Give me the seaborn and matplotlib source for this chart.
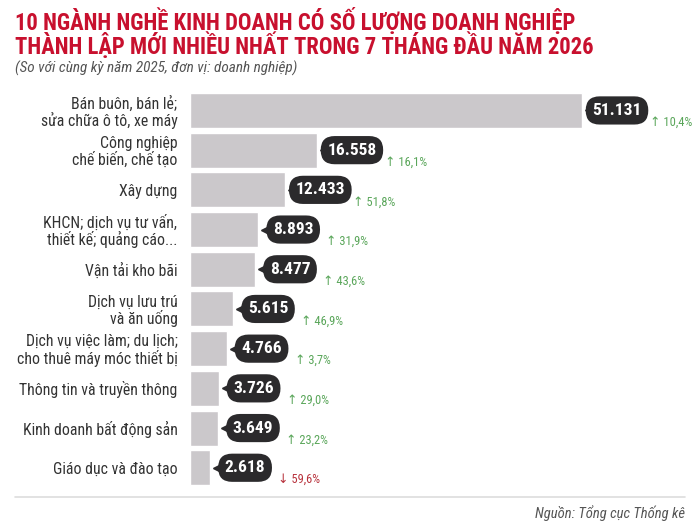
import numpy as np
import pandas as pd
import matplotlib
matplotlib.use('Agg')
import matplotlib.pyplot as plt
import matplotlib.transforms as mtransforms
import seaborn as sns

# du lieu
nganh = ['Bán buôn, bán lẻ;\nsửa chữa ô tô, xe máy',
         'Công nghiệp\nchế biến, chế tạo',
         'Xây dựng',
         'KHCN; dịch vụ tư vấn,\nthiết kế; quảng cáo...',
         'Vận tải kho bãi',
         'Dịch vụ lưu trú\nvà ăn uống',
         'Dịch vụ việc làm; du lịch;\ncho thuê máy móc thiết bị',
         'Thông tin và truyền thông',
         'Kinh doanh bất động sản',
         'Giáo dục và đào tạo']
so_dn = [51131, 16558, 12433, 8893, 8477, 5615, 4766, 3726, 3649, 2618]
nhan_so = ['51.131', '16.558', '12.433', '8.893', '8.477', '5.615', '4.766', '3.726', '3.649', '2.618']
tang_truong = [10.4, 16.1, 51.8, 31.9, 43.6, 46.9, 3.7, 29.0, 23.2, -59.6]
nhan_tt = ['10,4%', '16,1%', '51,8%', '31,9%', '43,6%', '46,9%', '3,7%', '29,0%', '23,2%', '59,6%']

df = pd.DataFrame({'nganh': nganh, 'so_dn': so_dn})

sns.set_style('white')
FONT = ['Roboto Condensed', 'Roboto', 'DejaVu Sans']
plt.rcParams['font.family'] = FONT

W, H = 700, 527
fig = plt.figure(figsize=(7, 5.27), dpi=100)
# truc: 0 tai x=190px, 51131 tai x=582px
ax = fig.add_axes([190 / W, 1 - 487.6 / H, 500 / W, (487.6 - 90.6) / H])

sns.barplot(data=df, y='nganh', x='so_dn', orient='h', color='#cbc8cb',
            saturation=1, width=0.88, ax=ax)
ax.set_xlim(0, 51131 * 500 / 392)
ax.set_ylim(9.5, -0.5)
sns.despine(ax=ax, left=True, bottom=True)
ax.set_xlabel('')
ax.set_ylabel('')
ax.set_xticks([])
ax.tick_params(axis='y', length=0, pad=9, labelsize=11.3, labelcolor='#333333')
for t in ax.get_yticklabels():
    t.set_linespacing(1.05)

for i, (v, lab, tt, ntt) in enumerate(zip(so_dn, nhan_so, tang_truong, nhan_tt)):
    # mui nhon cua nhan
    tri = mtransforms.offset_copy(ax.transData, fig=fig, x=8, y=0, units='dots')
    ax.plot(v, i, marker='<', ms=7, color='#2b2a2c', transform=tri, clip_on=False)
    ax.annotate(lab, xy=(v, i), xytext=(35, 0), textcoords='offset pixels',
                ha='center', va='center', color='white', fontsize=12.5, fontweight='bold',
                bbox=dict(boxstyle='round,pad=0.38,rounding_size=0.8', fc='#2b2a2c', ec='none'),
                annotation_clip=False)
    mau = '#5aa65a' if tt >= 0 else '#b8323c'
    mui_ten = '↑' if tt >= 0 else '↓'
    ax.annotate(mui_ten + ' ' + ntt, xy=(v, i), xytext=(68, -12), textcoords='offset pixels',
                ha='left', va='center', color=mau, fontsize=9, annotation_clip=False)

fig.text(15 / W, 1 - 21 / H, '10 NGÀNH NGHỀ KINH DOANH CÓ SỐ LƯỢNG DOANH NGHIỆP',
         color='#c8102e', fontsize=16.3, fontweight='bold', va='center', ha='left')
fig.text(15 / W, 1 - 46 / H, 'THÀNH LẬP MỚI NHIỀU NHẤT TRONG 7 THÁNG ĐẦU NĂM 2026',
         color='#c8102e', fontsize=16.3, fontweight='bold', va='center', ha='left')
fig.text(15 / W, 1 - 68 / H, '(So với cùng kỳ năm 2025, đơn vị: doanh nghiệp)',
         color='#555555', fontsize=11, style='italic', va='center', ha='left')

fig.add_artist(plt.Line2D([15 / W, 685 / W], [1 - 497 / H, 1 - 497 / H],
                          color='#dddddd', lw=1.2))
fig.text(685 / W, 1 - 513 / H, 'Nguồn: Tổng cục Thống kê', color='#555555',
         fontsize=10.5, style='italic', ha='right', va='center')

fig.savefig('out.png', dpi=100, facecolor='white')
